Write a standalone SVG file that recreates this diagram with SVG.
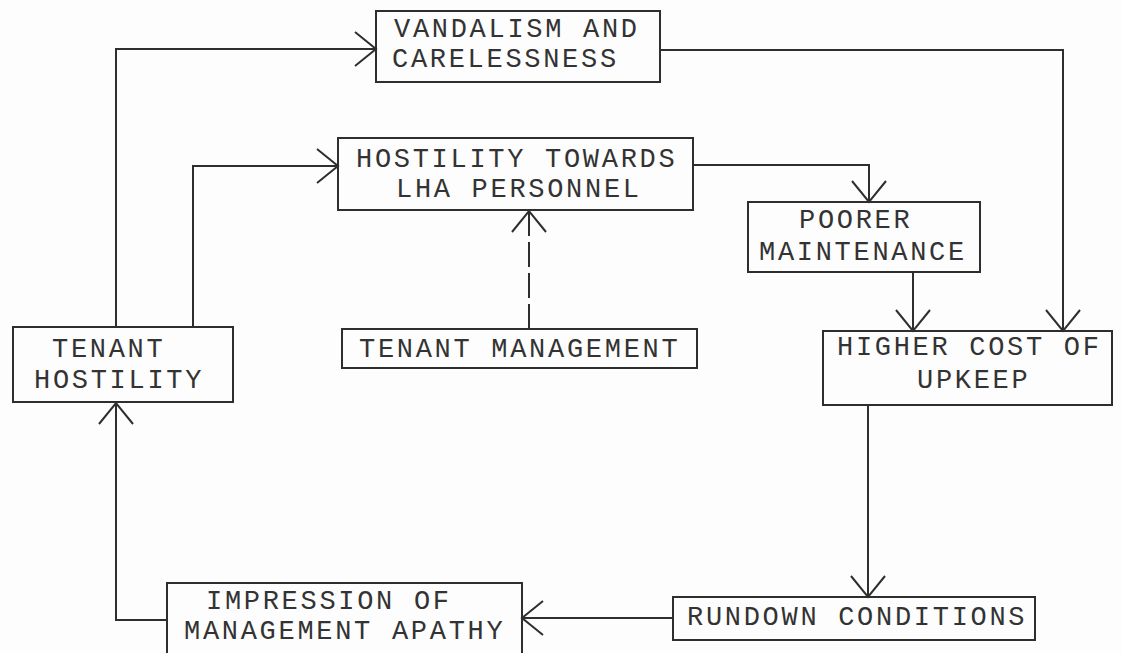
<svg xmlns="http://www.w3.org/2000/svg" width="1122" height="653" viewBox="0 0 1122 653">
<style>
.box{fill:none;stroke:#2e2e2e;stroke-width:2}
.t{font-family:"Liberation Mono","Courier New",monospace;font-size:27px;letter-spacing:2.7px;fill:#333}
.c{fill:none;stroke:#2e2e2e;stroke-width:2}
.d{stroke-dasharray:25 6}
</style>
<defs>
<marker id="arr" markerUnits="userSpaceOnUse" markerWidth="30" markerHeight="40" viewBox="-25 -20 30 40" refX="0" refY="0" orient="auto">
<path d="M-21,-17 L0,0 L-21,17" fill="none" stroke="#2e2e2e" stroke-width="2"/>
</marker>
</defs>
<rect width="1122" height="653" fill="#fdfdfd"/>
<g id="connectors">
<path class="c" d="M116,327 V49 H376" marker-end="url(#arr)"/>
<path class="c" d="M193,327 V166 H338" marker-end="url(#arr)"/>
<path class="c" d="M693,165 H869 V202" marker-end="url(#arr)"/>
<path class="c" d="M660,50 H1063 V331" marker-end="url(#arr)"/>
<path class="c" d="M913,272 V331" marker-end="url(#arr)"/>
<path class="c" d="M868,405 V597" marker-end="url(#arr)"/>
<path class="c" d="M673,618 H522" marker-end="url(#arr)"/>
<path class="c" d="M167,620 H116 V403" marker-end="url(#arr)"/>
<path class="c d" d="M529,329 V211" marker-end="url(#arr)"/>
</g>
<g id="vandalism">
<rect class="box" x="376" y="11" width="284" height="71"/>
<text class="t" x="394" y="37">VANDALISM AND</text>
<text class="t" x="392" y="67">CARELESSNESS</text>
</g>
<g id="hostility-lha">
<rect class="box" x="338" y="138" width="355" height="72"/>
<text class="t" x="356" y="167">HOSTILITY TOWARDS</text>
<text class="t" x="396" y="197">LHA PERSONNEL</text>
</g>
<g id="poorer-maintenance">
<rect class="box" x="748" y="202" width="232" height="70"/>
<text class="t" x="799" y="228">POORER</text>
<text class="t" x="759" y="260">MAINTENANCE</text>
</g>
<g id="tenant-hostility">
<rect class="box" x="13" y="327" width="220" height="75"/>
<text class="t" x="52" y="357">TENANT</text>
<text class="t" x="34" y="388">HOSTILITY</text>
</g>
<g id="tenant-management">
<rect class="box" x="342" y="329" width="355" height="39"/>
<text class="t" x="359" y="357">TENANT MANAGEMENT</text>
</g>
<g id="higher-cost">
<rect class="box" x="823" y="331" width="289" height="74"/>
<text class="t" x="837" y="355">HIGHER COST OF</text>
<text class="t" x="917" y="388">UPKEEP</text>
</g>
<g id="rundown">
<rect class="box" x="673" y="597" width="362" height="43"/>
<text class="t" x="687" y="625">RUNDOWN CONDITIONS</text>
</g>
<g id="impression">
<rect class="box" x="167" y="583" width="355" height="80"/>
<text class="t" x="206" y="609">IMPRESSION OF</text>
<text class="t" x="184" y="639">MANAGEMENT APATHY</text>
</g>
</svg>
